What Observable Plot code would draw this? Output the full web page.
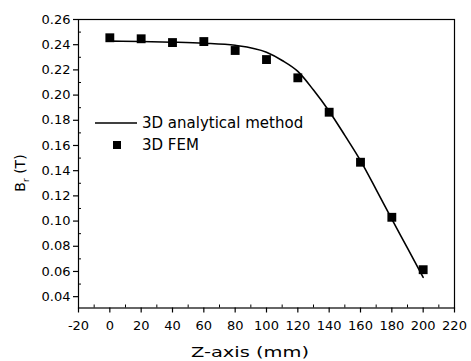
<!DOCTYPE html>
<html>
<head>
<meta charset="utf-8">
<script src="https://cdn.jsdelivr.net/npm/d3@7"></script>
<script src="https://cdn.jsdelivr.net/npm/@observablehq/plot@0.6"></script>
<style>
  html, body { margin: 0; padding: 0; background: #fff; }
  #wrap { position: relative; width: 471px; height: 361px; font-family: "DejaVu Sans", sans-serif; }
  #legend { position: absolute; left: 0; top: 0; width: 471px; height: 361px; pointer-events: none; }
</style>
</head>
<body>
<div id="wrap"></div>
<script>
// Data
const zFEM = [0, 20, 40, 60, 80, 100, 120, 140, 160, 180, 200];
const bFEM = [0.2455, 0.2447, 0.2417, 0.2425, 0.2354, 0.2282, 0.2137, 0.1864, 0.1467, 0.1030, 0.0614];
const zAna = [0, 20, 40, 60, 80, 100, 110, 120, 130, 140, 150, 160, 170, 180, 190, 200];
const bAna = [0.2428, 0.2425, 0.2420, 0.2412, 0.2395, 0.2340, 0.2275, 0.2188, 0.2040, 0.1872, 0.1680, 0.1480, 0.1250, 0.1015, 0.0785, 0.0553];
const xMajor = [-20, 0, 20, 40, 60, 80, 100, 120, 140, 160, 180, 200, 220];
const xMinor = [-10, 10, 30, 50, 70, 90, 110, 130, 150, 170, 190, 210];
const yMajor = [0.04, 0.06, 0.08, 0.10, 0.12, 0.14, 0.16, 0.18, 0.20, 0.22, 0.24, 0.26];
const yMinor = [0.05, 0.07, 0.09, 0.11, 0.13, 0.15, 0.17, 0.19, 0.21, 0.23, 0.25];
const seriesNames = ["3D analytical method", "3D FEM"];
const xLabel = "Z-axis (mm)";
const yLabelMain = "B", yLabelSub = "r", yLabelUnit = " (T)";

const fem = zFEM.map((z, i) => ({z, b: bFEM[i]}));
const ana = zAna.map((z, i) => ({z, b: bAna[i]}));

const plot = Plot.plot({
  width: 471,
  height: 361,
  marginLeft: 78,
  marginRight: 17,
  marginTop: 19,
  marginBottom: 53.5,
  style: {fontFamily: "DejaVu Sans, sans-serif", fontSize: "13px", color: "#000", background: "#fff"},
  x: {domain: [-20, 220]},
  y: {domain: [0.031, 0.26]},
  marks: [
    Plot.frame({stroke: "#000", strokeWidth: 1.2}),
    Plot.axisX(xMajor, {tickSize: 5, tickPadding: 8, tickFormat: d => String(d), label: null, fontSize: 13, strokeWidth: 1.2}),
    Plot.axisX(xMinor, {tickSize: -3, text: null, label: null}),
    Plot.axisY(yMajor, {tickSize: 5, tickPadding: 3, tickFormat: d => d.toFixed(2), label: null, fontSize: 13, strokeWidth: 1.2}),
    Plot.axisY(yMinor, {tickSize: -3, text: null, label: null}),
    Plot.line(ana, {x: "z", y: "b", stroke: "#000", strokeWidth: 1.6, curve: "monotone-x"}),
    Plot.dot(fem, {x: "z", y: "b", symbol: "square", r: 5, fill: "#000", stroke: "none"})
  ]
});
document.getElementById("wrap").appendChild(plot);

// Overlay: axis titles and legend
const ov = d3.select("#wrap").append("svg").attr("id", "legend").attr("width", 471).attr("height", 361)
  .attr("font-family", "DejaVu Sans, sans-serif");

ov.append("text")
  .attr("x", 250).attr("y", 357)
  .attr("text-anchor", "middle")
  .attr("font-size", 14)
  .attr("textLength", 118).attr("lengthAdjust", "spacingAndGlyphs")
  .text(xLabel);

const yl = ov.append("text")
  .attr("transform", "translate(25,173) rotate(-90)")
  .attr("text-anchor", "middle")
  .attr("font-size", 14);
yl.append("tspan").text(yLabelMain);
yl.append("tspan").attr("dy", 4).attr("font-size", 9).text(yLabelSub);
yl.append("tspan").attr("dy", -4).text(yLabelUnit);

ov.append("line").attr("x1", 95).attr("x2", 137).attr("y1", 123).attr("y2", 123).attr("stroke", "#000").attr("stroke-width", 1.6);
ov.append("rect").attr("x", 113).attr("y", 141).attr("width", 8).attr("height", 8).attr("fill", "#000");
ov.selectAll("text.lg").data(seriesNames).join("text")
  .attr("class", "lg")
  .attr("x", 142)
  .attr("y", (d, i) => i === 0 ? 123 : 145)
  .attr("dy", "0.35em")
  .attr("font-size", 15)
  .text(d => d);
</script>
</body>
</html>
